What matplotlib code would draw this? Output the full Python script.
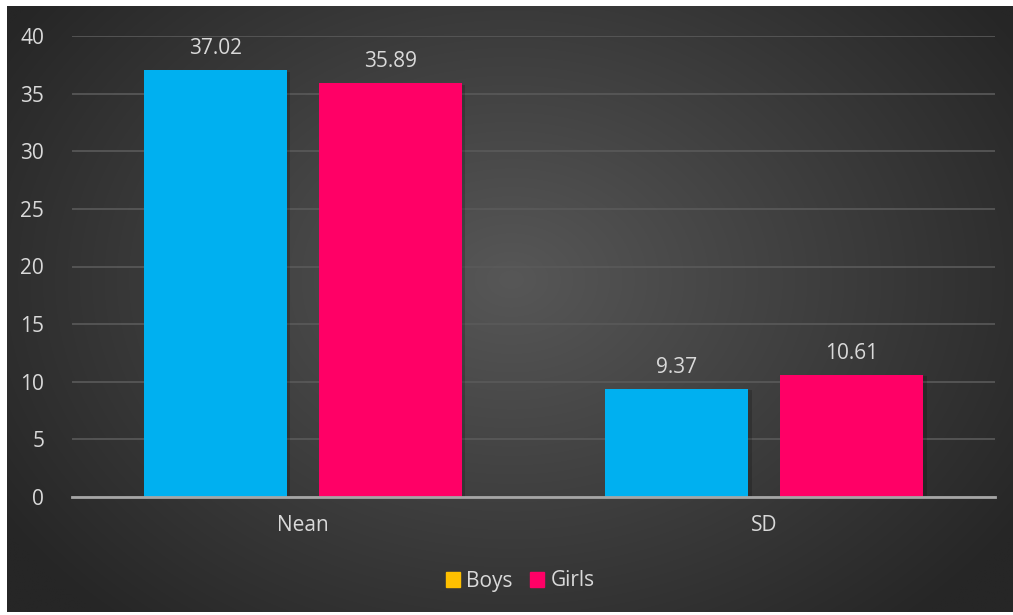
import matplotlib
matplotlib.use("Agg")
import matplotlib.pyplot as plt
import numpy as np
from matplotlib.patches import Patch
import matplotlib.patheffects as pe

categories = ["Nean", "SD"]
boys = [37.02, 9.37]
girls = [35.89, 10.61]
series_names = ["Boys", "Girls"]
yticks = [0, 5, 10, 15, 20, 25, 30, 35, 40]

W, H = 1013, 615
fig = plt.figure(figsize=(W / 100, H / 100), dpi=100)
fig.patch.set_facecolor("white")

# gradient background
bx0, by0, bx1, by1 = 7, 6, 1013, 612  # pixel box (top-left origin)
bg = fig.add_axes([bx0 / W, 1 - by1 / H, (bx1 - bx0) / W, (by1 - by0) / H])
ny, nx = 300, 500
yy, xx = np.mgrid[0:ny, 0:nx]
cx, cy = nx * 0.5, ny * 0.45
r = np.sqrt(((xx - cx) / (nx * 0.6)) ** 2 + ((yy - cy) / (ny * 0.75)) ** 2)
r = np.clip(r, 0, 1)
inner = np.array([0x57, 0x57, 0x57]) / 255
outer = np.array([0x26, 0x26, 0x26]) / 255
img = inner[None, None, :] * (1 - r[..., None]) + outer[None, None, :] * r[..., None]
bg.imshow(img, aspect="auto", extent=[0, 1, 0, 1], interpolation="bilinear")
bg.axis("off")

# main axes
ax_l, ax_r, ax_t, ax_b = 72, 995, 36, 497
ymin, ymax = 0, 40
ax = fig.add_axes([ax_l / W, 1 - ax_b / H, (ax_r - ax_l) / W, (ax_b - ax_t) / H])
ax.set_facecolor("none")

x = np.arange(len(categories))
bw = 0.31
off = 0.19
shadow = [pe.SimplePatchShadow(offset=(2.5, -1), shadow_rgbFace="black", alpha=0.18), pe.Normal()]
b1 = ax.bar(x - off, boys, bw, color="#00B0F0", zorder=3)
b2 = ax.bar(x + off, girls, bw, color="#FF0066", zorder=3)
for bars in (b1, b2):
    for p in bars:
        p.set_path_effects(shadow)

txt = "#D9D9D9"
fs = 15
for bars, vals in ((b1, boys), (b2, girls)):
    for p, v in zip(bars, vals):
        ax.annotate(f"{v:.2f}", (p.get_x() + p.get_width() / 2, v), xytext=(0, 8),
                    textcoords="offset points", ha="center", va="bottom",
                    color=txt, fontsize=fs, family="Open Sans")

ax.set_xlim(-0.5, 1.5)
ax.set_ylim(ymin, ymax)
ax.set_yticks(yticks)
ax.set_yticklabels([str(t) for t in yticks], color=txt, fontsize=fs, family="Open Sans")
ax.set_xticks(x)
ax.set_xticklabels(categories, color=txt, fontsize=fs, family="Open Sans")
ax.tick_params(axis="both", length=0)
ax.tick_params(axis="y", pad=20)
ax.tick_params(axis="x", pad=13)
ax.yaxis.grid(True, color="#5A5A5A", linewidth=1.2, zorder=0)
ax.set_axisbelow(True)
for s in ("top", "right", "left"):
    ax.spines[s].set_visible(False)
ax.spines["bottom"].set_color("#A6A6A6")
ax.spines["bottom"].set_linewidth(2)
ax.spines["bottom"].set_zorder(4)

handles = [Patch(color="#FFC000", label=series_names[0]), Patch(color="#FF0066", label=series_names[1])]
leg = fig.legend(handles=handles, loc="center", bbox_to_anchor=(520 / W, 1 - 581 / H), ncol=2,
                 frameon=False, handlelength=0.7, handleheight=0.7, handletextpad=0.3,
                 columnspacing=0.8, prop={"family": "Open Sans", "size": fs})
for t in leg.get_texts():
    t.set_color(txt)

fig.savefig("out.png", dpi=100, facecolor="white")
